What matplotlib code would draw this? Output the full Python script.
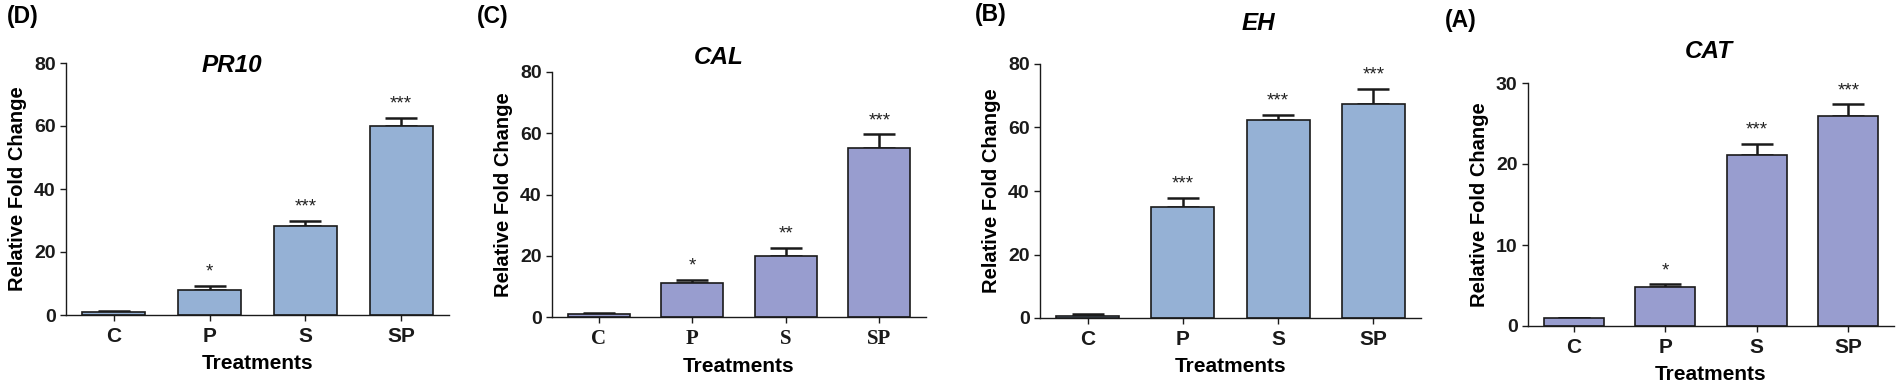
import matplotlib
matplotlib.use("Agg")
import matplotlib.pyplot as plt

plt.rcParams['font.family'] = ['Liberation Sans', 'DejaVu Sans']

categories = ["C", "P", "S", "SP"]

pr10_vals = [1.0, 8.0, 28.4, 60.0]
pr10_err = [0.2, 1.3, 1.6, 2.6]
pr10_stars = ["", "*", "***", "***"]

cal_vals = [1.0, 11.1, 19.8, 55.1]
cal_err = [0.2, 1.0, 2.8, 4.6]
cal_stars = ["", "*", "**", "***"]

eh_vals = [0.7, 34.9, 62.5, 67.4]
eh_err = [0.5, 2.8, 1.4, 4.6]
eh_stars = ["", "***", "***", "***"]

cat_vals = [1.03, 4.77, 21.1, 25.9]
cat_err = [0.0, 0.4, 1.4, 1.5]
cat_stars = ["", "*", "***", "***"]

W, H = 1901, 387
fig = plt.figure(figsize=(W / 100, H / 100), dpi=100)

blue = "#95b1d5"
lav = "#989dcf"
ink = "#1a1a1a"

panels = [
    # label, title, vals, err, stars, ymax, yticks, color, axes px (left,right,top,bottom), serif ticks, label pos, title pos
    ("(D)", "PR10", pr10_vals, pr10_err, pr10_stars, 80, [0, 20, 40, 60, 80], blue, (66, 449, 63, 315), False, (7, 17), (232, 65)),
    ("(C)", "CAL", cal_vals, cal_err, cal_stars, 80, [0, 20, 40, 60, 80], lav, (552, 926, 72, 317), True, (477, 17), (719, 58)),
    ("(B)", "EH", eh_vals, eh_err, eh_stars, 80, [0, 20, 40, 60, 80], blue, (1040, 1421, 64, 318), False, (975, 15), (1258, 23)),
    ("(A)", "CAT", cat_vals, cat_err, cat_stars, 30, [0, 10, 20, 30], lav, (1528, 1894, 83, 326), False, (1445, 20), (1709, 51)),
]

for lab, title, vals, err, stars, ymax, yticks, color, (l, r, t, b), serif, (lx, ly), (tx, ty) in panels:
    ax = fig.add_axes([l / W, 1 - b / H, (r - l) / W, (b - t) / H])
    x = list(range(len(categories)))
    ax.bar(x, vals, width=0.66, color=color, edgecolor=ink, linewidth=1.2, zorder=2)
    lower = [0] * len(err)
    ax.errorbar(x, vals, yerr=[lower, err], fmt="none", ecolor=ink,
                elinewidth=1.8, capsize=11.5, capthick=1.8, zorder=1)
    for xi, v, e, s in zip(x, vals, err, stars):
        if s:
            ax.text(xi, v + e + 0.055 * ymax, s, ha="center", va="center",
                    fontsize=13.5, color="#222222")
    ax.set_xlim(-0.5, 3.5)
    ax.set_ylim(0, ymax)
    ax.set_yticks(yticks, labels=[str(v) for v in yticks], fontsize=14, fontweight="bold")
    if serif:
        ax.set_xticks(x, labels=categories, fontsize=15, fontweight="bold",
                      family=["Liberation Serif", "DejaVu Serif"])
    else:
        ax.set_xticks(x, labels=categories, fontsize=15, fontweight="bold")
    for sp in ("top", "right"):
        ax.spines[sp].set_visible(False)
    for sp in ("left", "bottom"):
        ax.spines[sp].set_linewidth(1.0)
        ax.spines[sp].set_color(ink)
    ax.tick_params(axis="both", direction="out", length=4.5, width=1.0, colors=ink, pad=3)
    ax.tick_params(axis="x", pad=4)
    ax.set_xlabel("Treatments", fontsize=15, fontweight="bold", labelpad=6)
    ax.set_ylabel("Relative Fold Change", fontsize=14.5, fontweight="bold", labelpad=5)
    fig.text(tx / W, 1 - ty / H, title, ha="center", va="center",
             fontsize=17.5, fontweight="bold", fontstyle="italic")
    fig.text(lx / W, 1 - ly / H, lab, ha="left", va="center", fontsize=16.5, fontweight="bold")

fig.savefig("out.png", dpi=100, facecolor="white")
